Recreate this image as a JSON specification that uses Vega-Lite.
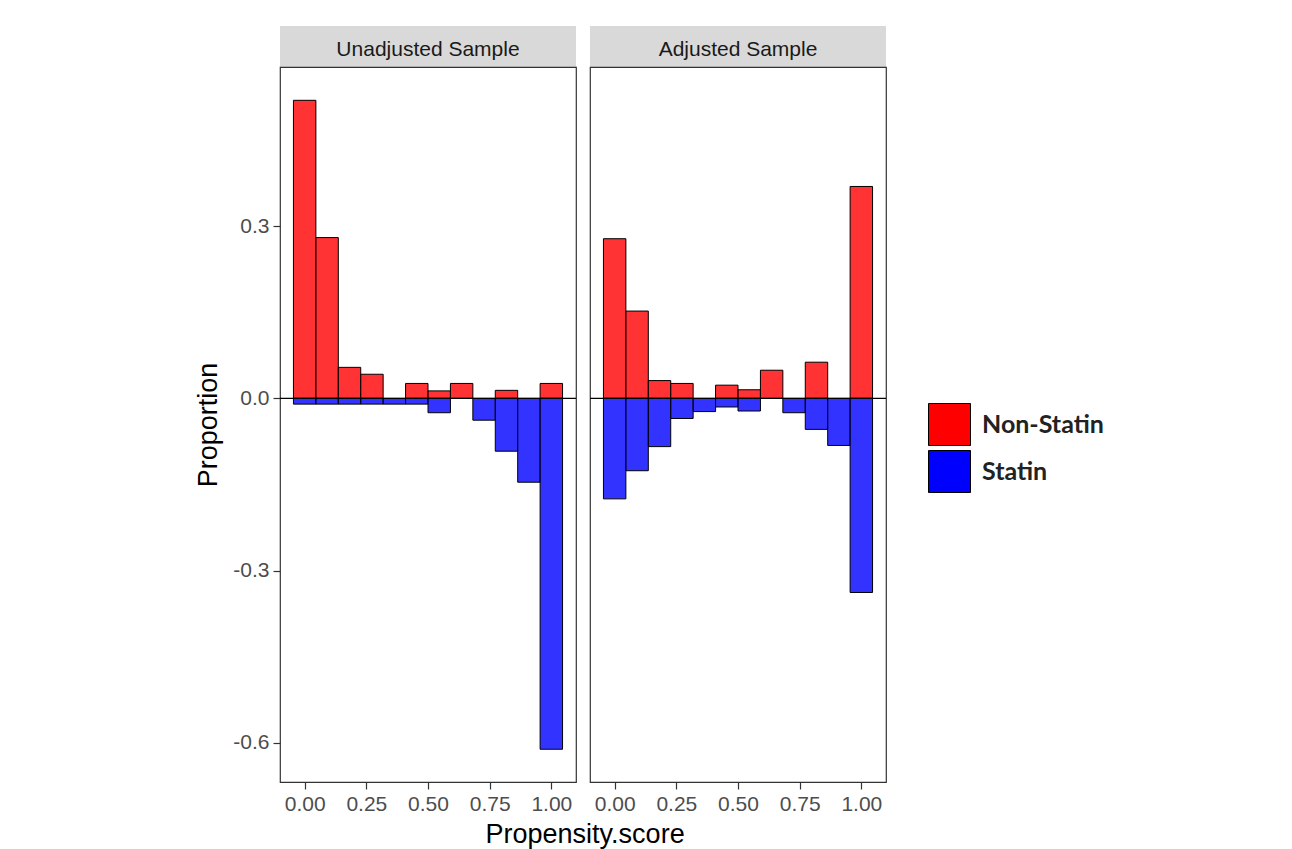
{
  "$schema": "https://vega.github.io/schema/vega-lite/v6.json",
  "background": "white",
  "padding": {"left": 194, "top": 26, "right": 5, "bottom": 5},
  "datasets": {
    "bars": [
      {"panel": "Unadjusted Sample", "group": "Non-Statin", "bin_start": -0.0455, "bin_end": 0.0455, "proportion": 0.519},
      {"panel": "Unadjusted Sample", "group": "Non-Statin", "bin_start": 0.0455, "bin_end": 0.1364, "proportion": 0.280},
      {"panel": "Unadjusted Sample", "group": "Non-Statin", "bin_start": 0.1364, "bin_end": 0.2273, "proportion": 0.054},
      {"panel": "Unadjusted Sample", "group": "Non-Statin", "bin_start": 0.2273, "bin_end": 0.3182, "proportion": 0.042},
      {"panel": "Unadjusted Sample", "group": "Non-Statin", "bin_start": 0.4091, "bin_end": 0.5, "proportion": 0.026},
      {"panel": "Unadjusted Sample", "group": "Non-Statin", "bin_start": 0.5, "bin_end": 0.5909, "proportion": 0.013},
      {"panel": "Unadjusted Sample", "group": "Non-Statin", "bin_start": 0.5909, "bin_end": 0.6818, "proportion": 0.026},
      {"panel": "Unadjusted Sample", "group": "Non-Statin", "bin_start": 0.7727, "bin_end": 0.8636, "proportion": 0.014},
      {"panel": "Unadjusted Sample", "group": "Non-Statin", "bin_start": 0.9545, "bin_end": 1.0455, "proportion": 0.026},
      {"panel": "Unadjusted Sample", "group": "Statin", "bin_start": -0.0455, "bin_end": 0.0455, "proportion": -0.010},
      {"panel": "Unadjusted Sample", "group": "Statin", "bin_start": 0.0455, "bin_end": 0.1364, "proportion": -0.010},
      {"panel": "Unadjusted Sample", "group": "Statin", "bin_start": 0.1364, "bin_end": 0.2273, "proportion": -0.010},
      {"panel": "Unadjusted Sample", "group": "Statin", "bin_start": 0.2273, "bin_end": 0.3182, "proportion": -0.010},
      {"panel": "Unadjusted Sample", "group": "Statin", "bin_start": 0.3182, "bin_end": 0.4091, "proportion": -0.010},
      {"panel": "Unadjusted Sample", "group": "Statin", "bin_start": 0.4091, "bin_end": 0.5, "proportion": -0.010},
      {"panel": "Unadjusted Sample", "group": "Statin", "bin_start": 0.5, "bin_end": 0.5909, "proportion": -0.025},
      {"panel": "Unadjusted Sample", "group": "Statin", "bin_start": 0.6818, "bin_end": 0.7727, "proportion": -0.038},
      {"panel": "Unadjusted Sample", "group": "Statin", "bin_start": 0.7727, "bin_end": 0.8636, "proportion": -0.092},
      {"panel": "Unadjusted Sample", "group": "Statin", "bin_start": 0.8636, "bin_end": 0.9545, "proportion": -0.146},
      {"panel": "Unadjusted Sample", "group": "Statin", "bin_start": 0.9545, "bin_end": 1.0455, "proportion": -0.611},
      {"panel": "Adjusted Sample", "group": "Non-Statin", "bin_start": -0.0455, "bin_end": 0.0455, "proportion": 0.278},
      {"panel": "Adjusted Sample", "group": "Non-Statin", "bin_start": 0.0455, "bin_end": 0.1364, "proportion": 0.152},
      {"panel": "Adjusted Sample", "group": "Non-Statin", "bin_start": 0.1364, "bin_end": 0.2273, "proportion": 0.031},
      {"panel": "Adjusted Sample", "group": "Non-Statin", "bin_start": 0.2273, "bin_end": 0.3182, "proportion": 0.026},
      {"panel": "Adjusted Sample", "group": "Non-Statin", "bin_start": 0.4091, "bin_end": 0.5, "proportion": 0.023},
      {"panel": "Adjusted Sample", "group": "Non-Statin", "bin_start": 0.5, "bin_end": 0.5909, "proportion": 0.015},
      {"panel": "Adjusted Sample", "group": "Non-Statin", "bin_start": 0.5909, "bin_end": 0.6818, "proportion": 0.049},
      {"panel": "Adjusted Sample", "group": "Non-Statin", "bin_start": 0.7727, "bin_end": 0.8636, "proportion": 0.063},
      {"panel": "Adjusted Sample", "group": "Non-Statin", "bin_start": 0.9545, "bin_end": 1.0455, "proportion": 0.369},
      {"panel": "Adjusted Sample", "group": "Statin", "bin_start": -0.0455, "bin_end": 0.0455, "proportion": -0.175},
      {"panel": "Adjusted Sample", "group": "Statin", "bin_start": 0.0455, "bin_end": 0.1364, "proportion": -0.126},
      {"panel": "Adjusted Sample", "group": "Statin", "bin_start": 0.1364, "bin_end": 0.2273, "proportion": -0.084},
      {"panel": "Adjusted Sample", "group": "Statin", "bin_start": 0.2273, "bin_end": 0.3182, "proportion": -0.035},
      {"panel": "Adjusted Sample", "group": "Statin", "bin_start": 0.3182, "bin_end": 0.4091, "proportion": -0.023},
      {"panel": "Adjusted Sample", "group": "Statin", "bin_start": 0.4091, "bin_end": 0.5, "proportion": -0.015},
      {"panel": "Adjusted Sample", "group": "Statin", "bin_start": 0.5, "bin_end": 0.5909, "proportion": -0.022},
      {"panel": "Adjusted Sample", "group": "Statin", "bin_start": 0.6818, "bin_end": 0.7727, "proportion": -0.025},
      {"panel": "Adjusted Sample", "group": "Statin", "bin_start": 0.7727, "bin_end": 0.8636, "proportion": -0.054},
      {"panel": "Adjusted Sample", "group": "Statin", "bin_start": 0.8636, "bin_end": 0.9545, "proportion": -0.082},
      {"panel": "Adjusted Sample", "group": "Statin", "bin_start": 0.9545, "bin_end": 1.0455, "proportion": -0.338}
    ],
    "panels": [
      {"panel": "Unadjusted Sample"},
      {"panel": "Adjusted Sample"}
    ],
    "zero": [{"proportion": 0}]
  },
  "title": {
    "text": "Propensity.score",
    "orient": "bottom",
    "anchor": "middle",
    "font": "Liberation Sans",
    "fontSize": 27,
    "fontWeight": "normal",
    "color": "#000000",
    "offset": 7,
    "dx": -64
  },
  "spacing": 10,
  "hconcat": [
    {
      "bounds": "flush",
      "spacing": 0,
      "vconcat": [
        {
          "width": 296,
          "height": 41,
          "view": {"fill": "#d9d9d9", "stroke": null},
          "data": {"name": "panels"},
          "transform": [{"filter": "datum.panel === 'Unadjusted Sample'"}],
          "mark": {"type": "text", "font": "Liberation Sans", "fontSize": 21, "color": "#1a1a1a", "baseline": "middle", "dy": 3},
          "encoding": {"text": {"field": "panel"}}
        },
        {
          "width": 296,
          "height": 715,
          "layer": [
            {
              "data": {"name": "bars"},
              "transform": [{"filter": "datum.panel === 'Unadjusted Sample'"}],
              "mark": {"type": "bar", "stroke": "#000000", "strokeWidth": 1, "fillOpacity": 0.8},
              "encoding": {
                "x": {"field": "bin_start", "type": "quantitative", "scale": {"domain": [-0.1, 1.1], "nice": false, "zero": false},
                      "axis": {"values": [0, 0.25, 0.5, 0.75, 1], "format": ".2f", "title": null}},
                "x2": {"field": "bin_end"},
                "y": {"field": "proportion", "type": "quantitative", "scale": {"domain": [-0.668, 0.577], "nice": false, "zero": false},
                      "axis": {"values": [-0.6, -0.3, 0, 0.3], "format": ".1f", "title": "Proportion"}},
                "y2": {"datum": 0},
                "color": {"field": "group", "type": "nominal", "scale": {"domain": ["Non-Statin", "Statin"], "range": ["#ff0000", "#0000ff"]},
                          "legend": {"title": null}}
              }
            },
            {
              "data": {"name": "zero"},
              "mark": {"type": "rule", "color": "#000000", "strokeWidth": 1.2},
              "encoding": {"y": {"field": "proportion", "type": "quantitative"}}
            }
          ]
        }
      ]
    },
    {
      "bounds": "flush",
      "spacing": 0,
      "vconcat": [
        {
          "width": 296,
          "height": 41,
          "view": {"fill": "#d9d9d9", "stroke": null},
          "data": {"name": "panels"},
          "transform": [{"filter": "datum.panel === 'Adjusted Sample'"}],
          "mark": {"type": "text", "font": "Liberation Sans", "fontSize": 21, "color": "#1a1a1a", "baseline": "middle", "dy": 3},
          "encoding": {"text": {"field": "panel"}}
        },
        {
          "width": 296,
          "height": 715,
          "layer": [
            {
              "data": {"name": "bars"},
              "transform": [{"filter": "datum.panel === 'Adjusted Sample'"}],
              "mark": {"type": "bar", "stroke": "#000000", "strokeWidth": 1, "fillOpacity": 0.8},
              "encoding": {
                "x": {"field": "bin_start", "type": "quantitative", "scale": {"domain": [-0.1, 1.1], "nice": false, "zero": false},
                      "axis": {"values": [0, 0.25, 0.5, 0.75, 1], "format": ".2f", "title": null}},
                "x2": {"field": "bin_end"},
                "y": {"field": "proportion", "type": "quantitative", "scale": {"domain": [-0.668, 0.577], "nice": false, "zero": false},
                      "axis": null},
                "y2": {"datum": 0},
                "color": {"field": "group", "type": "nominal", "scale": {"domain": ["Non-Statin", "Statin"], "range": ["#ff0000", "#0000ff"]},
                          "legend": {"title": null}}
              }
            },
            {
              "data": {"name": "zero"},
              "mark": {"type": "rule", "color": "#000000", "strokeWidth": 1.2},
              "encoding": {"y": {"field": "proportion", "type": "quantitative"}}
            }
          ]
        }
      ]
    }
  ],
  "config": {
    "locale": {"number": {"decimal": ".", "thousands": ",", "grouping": [3], "currency": ["$", ""], "minus": "-"}},
    "font": "Liberation Sans",
    "view": {"stroke": "#333333", "strokeWidth": 1.2},
    "axis": {
      "grid": false,
      "domain": false,
      "labelFont": "Liberation Sans",
      "labelFontSize": 21,
      "labelColor": "#4d4d4d",
      "tickColor": "#333333",
      "tickSize": 7,
      "tickWidth": 1.2,
      "labelPadding": 4,
      "titleFont": "Liberation Sans",
      "titleFontSize": 27,
      "titleFontWeight": "normal",
      "titleColor": "#000000",
      "titlePadding": 10
    },
    "legend": {
      "orient": "none",
      "legendX": 648,
      "legendY": 377,
      "padding": 0,
      "symbolType": "square",
      "symbolSize": 1764,
      "symbolStrokeColor": "#000000",
      "symbolStrokeWidth": 1,
      "symbolOpacity": 1,
      "rowPadding": 0,
      "labelOffset": 11,
      "labelFont": "Lato",
      "labelFontWeight": "bold",
      "labelFontSize": 25,
      "labelColor": "#222222",
      "labelLimit": 300
    }
  }
}
